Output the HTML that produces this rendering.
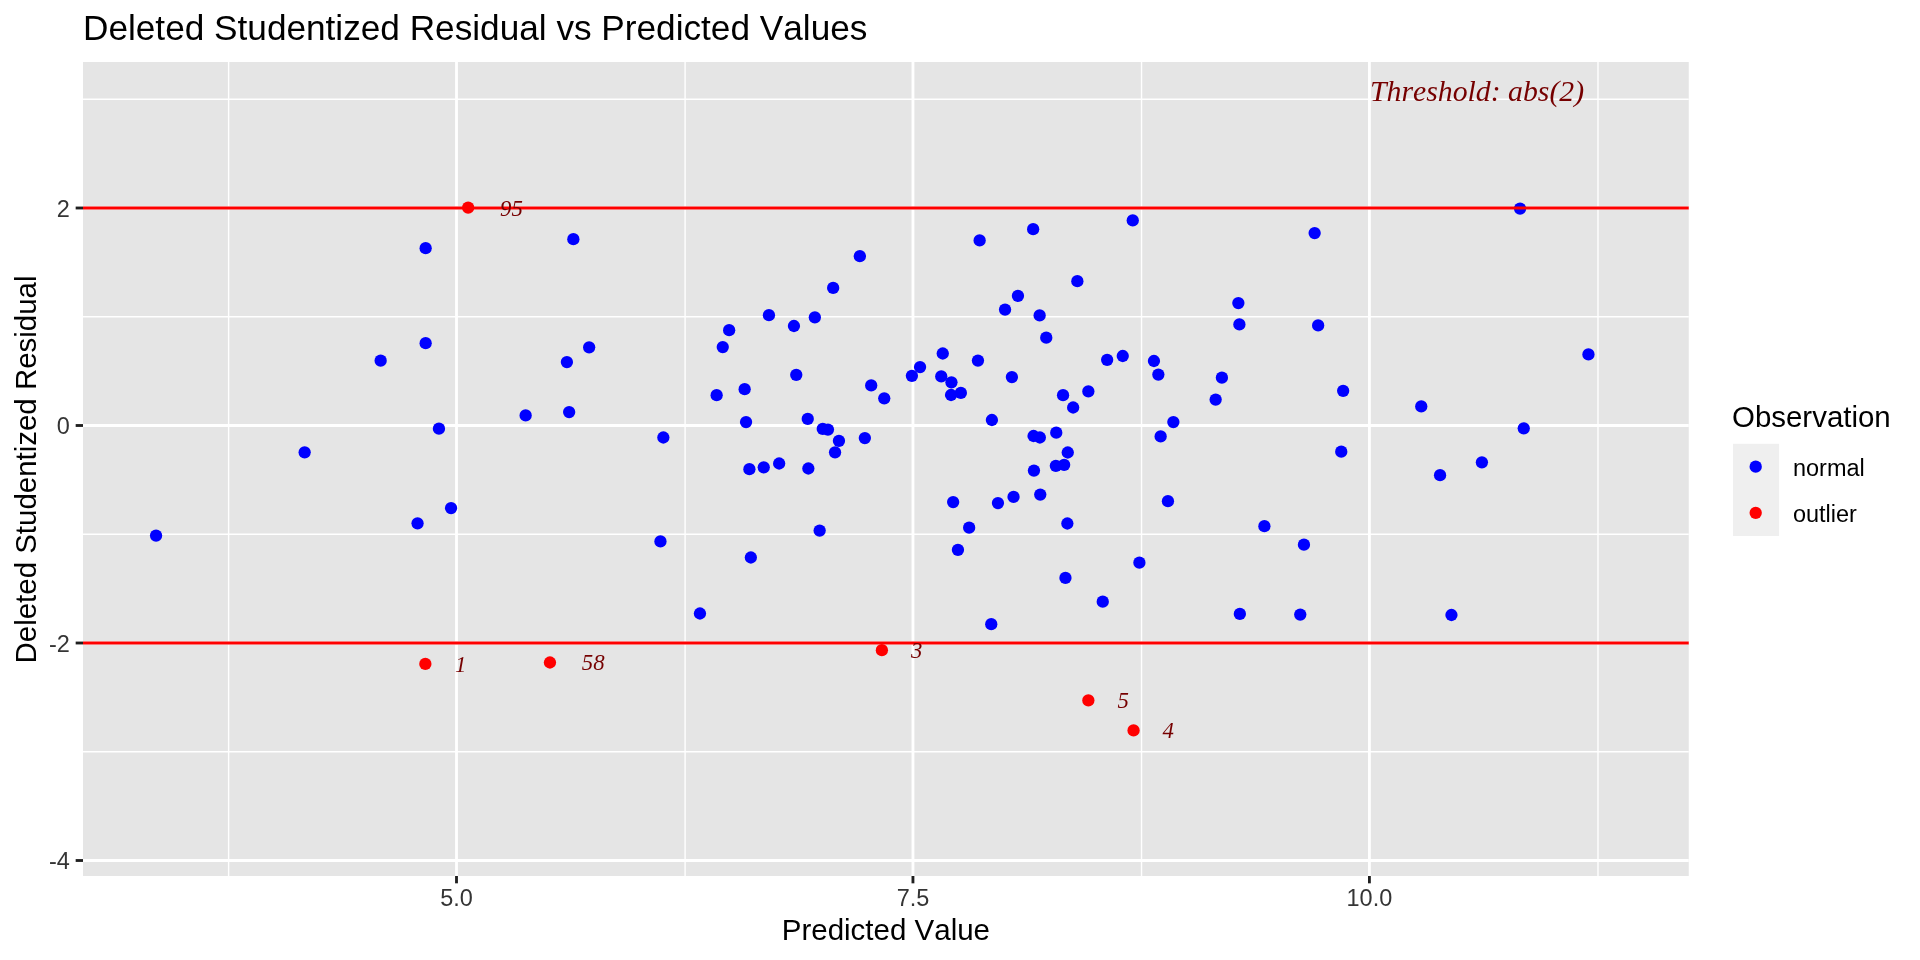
<!DOCTYPE html><html><head><meta charset="utf-8"><style>html,body{margin:0;padding:0;background:#fff;width:1920px;height:960px;overflow:hidden}svg{display:block;will-change:transform}text{font-family:"Liberation Sans",sans-serif;font-kerning:none}.s{font-family:"Liberation Serif",serif;font-style:italic;fill:#760000}</style></head><body>
<svg width="1920" height="960" viewBox="0 0 1920 960">
<rect x="0" y="0" width="1920" height="960" fill="#ffffff"/>
<text x="83" y="39.7" font-size="35.2" fill="#000">Deleted Studentized Residual vs Predicted Values</text>
<rect x="83.0" y="62.0" width="1605.75" height="814.00" fill="#E5E5E5"/>
<line x1="83.0" x2="1688.75" y1="99.25" y2="99.25" stroke="#fff" stroke-width="1.42"/>
<line x1="83.0" x2="1688.75" y1="316.75" y2="316.75" stroke="#fff" stroke-width="1.42"/>
<line x1="83.0" x2="1688.75" y1="534.25" y2="534.25" stroke="#fff" stroke-width="1.42"/>
<line x1="83.0" x2="1688.75" y1="751.75" y2="751.75" stroke="#fff" stroke-width="1.42"/>
<line y1="62.0" y2="876.0" x1="228.62" x2="228.62" stroke="#fff" stroke-width="1.42"/>
<line y1="62.0" y2="876.0" x1="685.08" x2="685.08" stroke="#fff" stroke-width="1.42"/>
<line y1="62.0" y2="876.0" x1="1141.53" x2="1141.53" stroke="#fff" stroke-width="1.42"/>
<line y1="62.0" y2="876.0" x1="1597.97" x2="1597.97" stroke="#fff" stroke-width="1.42"/>
<line x1="83.0" x2="1688.75" y1="208.00" y2="208.00" stroke="#fff" stroke-width="2.85"/>
<line x1="83.0" x2="1688.75" y1="425.50" y2="425.50" stroke="#fff" stroke-width="2.85"/>
<line x1="83.0" x2="1688.75" y1="643.00" y2="643.00" stroke="#fff" stroke-width="2.85"/>
<line x1="83.0" x2="1688.75" y1="860.50" y2="860.50" stroke="#fff" stroke-width="2.85"/>
<line y1="62.0" y2="876.0" x1="456.50" x2="456.50" stroke="#fff" stroke-width="2.85"/>
<line y1="62.0" y2="876.0" x1="912.95" x2="912.95" stroke="#fff" stroke-width="2.85"/>
<line y1="62.0" y2="876.0" x1="1369.40" x2="1369.40" stroke="#fff" stroke-width="2.85"/>
<circle cx="156.05" cy="535.60" r="6.15" fill="#0000FF"/>
<circle cx="304.65" cy="452.30" r="6.15" fill="#0000FF"/>
<circle cx="380.65" cy="360.70" r="6.15" fill="#0000FF"/>
<circle cx="425.65" cy="248.20" r="6.15" fill="#0000FF"/>
<circle cx="425.65" cy="343.20" r="6.15" fill="#0000FF"/>
<circle cx="417.55" cy="523.30" r="6.15" fill="#0000FF"/>
<circle cx="438.95" cy="428.70" r="6.15" fill="#0000FF"/>
<circle cx="451.05" cy="508.10" r="6.15" fill="#0000FF"/>
<circle cx="525.65" cy="415.40" r="6.15" fill="#0000FF"/>
<circle cx="566.90" cy="362.10" r="6.15" fill="#0000FF"/>
<circle cx="569.15" cy="412.10" r="6.15" fill="#0000FF"/>
<circle cx="573.35" cy="239.20" r="6.15" fill="#0000FF"/>
<circle cx="589.15" cy="347.30" r="6.15" fill="#0000FF"/>
<circle cx="660.45" cy="541.45" r="6.15" fill="#0000FF"/>
<circle cx="663.35" cy="437.50" r="6.15" fill="#0000FF"/>
<circle cx="699.95" cy="613.50" r="6.15" fill="#0000FF"/>
<circle cx="716.65" cy="395.20" r="6.15" fill="#0000FF"/>
<circle cx="722.75" cy="347.10" r="6.15" fill="#0000FF"/>
<circle cx="729.15" cy="330.20" r="6.15" fill="#0000FF"/>
<circle cx="744.65" cy="389.20" r="6.15" fill="#0000FF"/>
<circle cx="746.05" cy="422.10" r="6.15" fill="#0000FF"/>
<circle cx="749.40" cy="469.20" r="6.15" fill="#0000FF"/>
<circle cx="750.85" cy="557.50" r="6.15" fill="#0000FF"/>
<circle cx="763.75" cy="467.30" r="6.15" fill="#0000FF"/>
<circle cx="768.95" cy="315.20" r="6.15" fill="#0000FF"/>
<circle cx="779.15" cy="463.50" r="6.15" fill="#0000FF"/>
<circle cx="793.95" cy="326.00" r="6.15" fill="#0000FF"/>
<circle cx="796.25" cy="374.80" r="6.15" fill="#0000FF"/>
<circle cx="807.75" cy="418.95" r="6.15" fill="#0000FF"/>
<circle cx="808.35" cy="468.50" r="6.15" fill="#0000FF"/>
<circle cx="814.85" cy="317.30" r="6.15" fill="#0000FF"/>
<circle cx="819.65" cy="530.60" r="6.15" fill="#0000FF"/>
<circle cx="822.75" cy="428.95" r="6.15" fill="#0000FF"/>
<circle cx="827.95" cy="429.60" r="6.15" fill="#0000FF"/>
<circle cx="833.15" cy="287.90" r="6.15" fill="#0000FF"/>
<circle cx="838.95" cy="440.80" r="6.15" fill="#0000FF"/>
<circle cx="835.05" cy="452.30" r="6.15" fill="#0000FF"/>
<circle cx="859.85" cy="256.20" r="6.15" fill="#0000FF"/>
<circle cx="864.85" cy="438.10" r="6.15" fill="#0000FF"/>
<circle cx="871.19" cy="385.40" r="6.15" fill="#0000FF"/>
<circle cx="884.25" cy="398.30" r="6.15" fill="#0000FF"/>
<circle cx="911.90" cy="375.80" r="6.15" fill="#0000FF"/>
<circle cx="920.05" cy="367.10" r="6.15" fill="#0000FF"/>
<circle cx="942.75" cy="353.50" r="6.15" fill="#0000FF"/>
<circle cx="941.25" cy="376.45" r="6.15" fill="#0000FF"/>
<circle cx="951.45" cy="382.30" r="6.15" fill="#0000FF"/>
<circle cx="951.05" cy="395.00" r="6.15" fill="#0000FF"/>
<circle cx="953.15" cy="502.10" r="6.15" fill="#0000FF"/>
<circle cx="957.95" cy="549.80" r="6.15" fill="#0000FF"/>
<circle cx="960.85" cy="392.90" r="6.15" fill="#0000FF"/>
<circle cx="969.15" cy="527.70" r="6.15" fill="#0000FF"/>
<circle cx="977.95" cy="360.60" r="6.15" fill="#0000FF"/>
<circle cx="979.65" cy="240.40" r="6.15" fill="#0000FF"/>
<circle cx="991.25" cy="624.20" r="6.15" fill="#0000FF"/>
<circle cx="991.90" cy="420.00" r="6.15" fill="#0000FF"/>
<circle cx="997.95" cy="503.10" r="6.15" fill="#0000FF"/>
<circle cx="1005.05" cy="309.60" r="6.15" fill="#0000FF"/>
<circle cx="1011.90" cy="377.10" r="6.15" fill="#0000FF"/>
<circle cx="1013.55" cy="496.90" r="6.15" fill="#0000FF"/>
<circle cx="1017.95" cy="295.80" r="6.15" fill="#0000FF"/>
<circle cx="1033.15" cy="229.20" r="6.15" fill="#0000FF"/>
<circle cx="1033.55" cy="436.00" r="6.15" fill="#0000FF"/>
<circle cx="1033.95" cy="470.60" r="6.15" fill="#0000FF"/>
<circle cx="1039.65" cy="315.40" r="6.15" fill="#0000FF"/>
<circle cx="1039.85" cy="437.50" r="6.15" fill="#0000FF"/>
<circle cx="1040.25" cy="494.60" r="6.15" fill="#0000FF"/>
<circle cx="1046.25" cy="337.70" r="6.15" fill="#0000FF"/>
<circle cx="1056.25" cy="432.70" r="6.15" fill="#0000FF"/>
<circle cx="1055.85" cy="465.80" r="6.15" fill="#0000FF"/>
<circle cx="1063.05" cy="395.20" r="6.15" fill="#0000FF"/>
<circle cx="1064.15" cy="464.80" r="6.15" fill="#0000FF"/>
<circle cx="1065.45" cy="577.90" r="6.15" fill="#0000FF"/>
<circle cx="1067.35" cy="523.50" r="6.15" fill="#0000FF"/>
<circle cx="1067.75" cy="452.50" r="6.15" fill="#0000FF"/>
<circle cx="1073.15" cy="407.50" r="6.15" fill="#0000FF"/>
<circle cx="1077.35" cy="281.20" r="6.15" fill="#0000FF"/>
<circle cx="1088.35" cy="391.40" r="6.15" fill="#0000FF"/>
<circle cx="1102.75" cy="601.70" r="6.15" fill="#0000FF"/>
<circle cx="1107.15" cy="359.80" r="6.15" fill="#0000FF"/>
<circle cx="1122.75" cy="356.00" r="6.15" fill="#0000FF"/>
<circle cx="1132.75" cy="220.40" r="6.15" fill="#0000FF"/>
<circle cx="1139.40" cy="562.70" r="6.15" fill="#0000FF"/>
<circle cx="1153.95" cy="361.00" r="6.15" fill="#0000FF"/>
<circle cx="1158.35" cy="374.60" r="6.15" fill="#0000FF"/>
<circle cx="1160.65" cy="436.45" r="6.15" fill="#0000FF"/>
<circle cx="1167.95" cy="501.20" r="6.15" fill="#0000FF"/>
<circle cx="1173.35" cy="422.10" r="6.15" fill="#0000FF"/>
<circle cx="1215.65" cy="399.60" r="6.15" fill="#0000FF"/>
<circle cx="1221.90" cy="377.70" r="6.15" fill="#0000FF"/>
<circle cx="1238.35" cy="303.10" r="6.15" fill="#0000FF"/>
<circle cx="1239.40" cy="324.40" r="6.15" fill="#0000FF"/>
<circle cx="1239.85" cy="613.95" r="6.15" fill="#0000FF"/>
<circle cx="1264.40" cy="526.20" r="6.15" fill="#0000FF"/>
<circle cx="1300.25" cy="614.60" r="6.15" fill="#0000FF"/>
<circle cx="1303.95" cy="544.70" r="6.15" fill="#0000FF"/>
<circle cx="1314.65" cy="233.10" r="6.15" fill="#0000FF"/>
<circle cx="1318.15" cy="325.40" r="6.15" fill="#0000FF"/>
<circle cx="1341.25" cy="451.70" r="6.15" fill="#0000FF"/>
<circle cx="1343.15" cy="390.80" r="6.15" fill="#0000FF"/>
<circle cx="1421.25" cy="406.45" r="6.15" fill="#0000FF"/>
<circle cx="1440.05" cy="475.20" r="6.15" fill="#0000FF"/>
<circle cx="1451.45" cy="615.00" r="6.15" fill="#0000FF"/>
<circle cx="1481.90" cy="462.30" r="6.15" fill="#0000FF"/>
<circle cx="1520.05" cy="208.60" r="6.15" fill="#0000FF"/>
<circle cx="1523.75" cy="428.30" r="6.15" fill="#0000FF"/>
<circle cx="1588.45" cy="354.40" r="6.15" fill="#0000FF"/>
<circle cx="468.15" cy="207.70" r="6.15" fill="#FF0000"/>
<circle cx="425.35" cy="663.95" r="6.15" fill="#FF0000"/>
<circle cx="549.95" cy="662.50" r="6.15" fill="#FF0000"/>
<circle cx="881.90" cy="650.20" r="6.15" fill="#FF0000"/>
<circle cx="1088.35" cy="700.40" r="6.15" fill="#FF0000"/>
<circle cx="1133.55" cy="730.40" r="6.15" fill="#FF0000"/>
<line x1="83.0" x2="1688.75" y1="208.00" y2="208.00" stroke="#FF0000" stroke-width="2.85"/>
<line x1="83.0" x2="1688.75" y1="643.00" y2="643.00" stroke="#FF0000" stroke-width="2.85"/>
<text class="s" x="511.4" y="215.70" font-size="22.77" text-anchor="middle">95</text>
<text class="s" x="460.7" y="671.70" font-size="22.77" text-anchor="middle">1</text>
<text class="s" x="593.2" y="670.00" font-size="22.77" text-anchor="middle">58</text>
<text class="s" x="916.75" y="657.70" font-size="22.77" text-anchor="middle">3</text>
<text class="s" x="1123.2" y="707.90" font-size="22.77" text-anchor="middle">5</text>
<text class="s" x="1168.3" y="737.90" font-size="22.77" text-anchor="middle">4</text>
<text class="s" transform="translate(1370,101) scale(0.981,1)" x="0" y="0" font-size="30.35">Threshold: abs(2)</text>
<line x1="75.67" x2="83.0" y1="208.00" y2="208.00" stroke="#1F1F1F" stroke-width="2.85"/>
<text x="69.8" y="216.70" font-size="23.47" fill="#353535" text-anchor="end">2</text>
<line x1="75.67" x2="83.0" y1="425.50" y2="425.50" stroke="#1F1F1F" stroke-width="2.85"/>
<text x="69.8" y="434.20" font-size="23.47" fill="#353535" text-anchor="end">0</text>
<line x1="75.67" x2="83.0" y1="643.00" y2="643.00" stroke="#1F1F1F" stroke-width="2.85"/>
<text x="69.8" y="651.70" font-size="23.47" fill="#353535" text-anchor="end">-2</text>
<line x1="75.67" x2="83.0" y1="860.50" y2="860.50" stroke="#1F1F1F" stroke-width="2.85"/>
<text x="69.8" y="869.20" font-size="23.47" fill="#353535" text-anchor="end">-4</text>
<line y1="876.0" y2="883.33" x1="456.50" x2="456.50" stroke="#1F1F1F" stroke-width="2.85"/>
<text x="456.50" y="906.2" font-size="23.47" fill="#353535" text-anchor="middle">5.0</text>
<line y1="876.0" y2="883.33" x1="912.95" x2="912.95" stroke="#1F1F1F" stroke-width="2.85"/>
<text x="912.95" y="906.2" font-size="23.47" fill="#353535" text-anchor="middle">7.5</text>
<line y1="876.0" y2="883.33" x1="1369.40" x2="1369.40" stroke="#1F1F1F" stroke-width="2.85"/>
<text x="1369.40" y="906.2" font-size="23.47" fill="#353535" text-anchor="middle">10.0</text>
<text x="885.88" y="940" font-size="29.5" fill="#000" text-anchor="middle">Predicted Value</text>
<text transform="translate(35.6,469.50) rotate(-90)" x="0" y="0" font-size="29.45" fill="#000" text-anchor="middle">Deleted Studentized Residual</text>
<text x="1732" y="427" font-size="29.45" fill="#000">Observation</text>
<rect x="1733" y="443.8" width="46.08" height="92.16" fill="#EFEFEF"/>
<circle cx="1755.7" cy="466.7" r="6.15" fill="#0000FF"/>
<circle cx="1755.7" cy="512.8" r="6.15" fill="#FF0000"/>
<text x="1793" y="476.2" font-size="23.47" fill="#000">normal</text>
<text x="1793" y="522.2" font-size="23.47" fill="#000">outlier</text>
</svg></body></html>
